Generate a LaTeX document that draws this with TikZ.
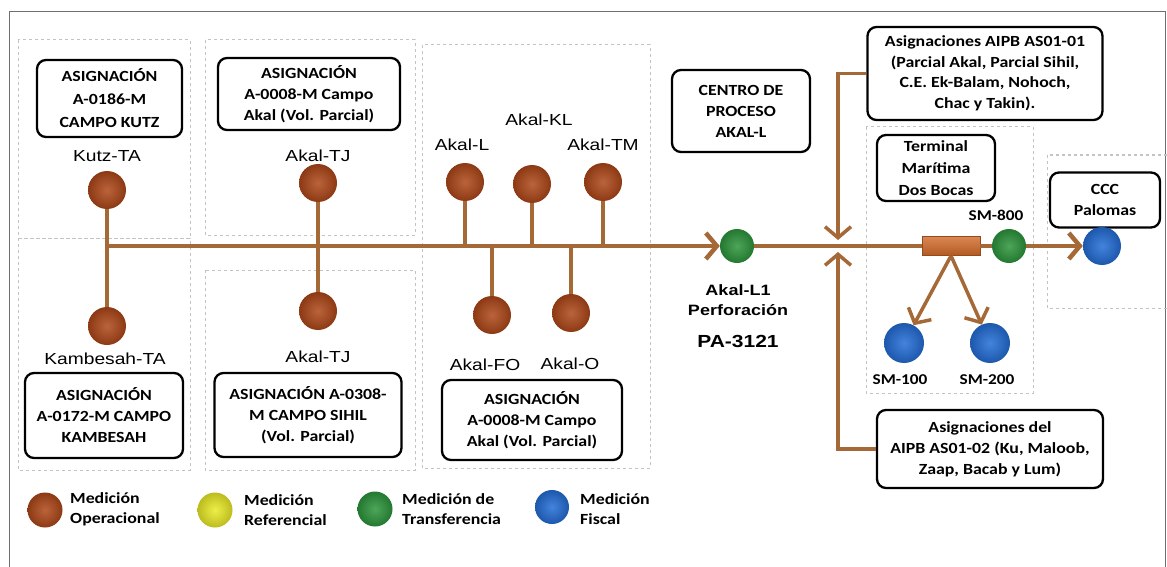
\documentclass[tikz,border=0pt]{standalone}
\usepackage{fontspec}
\setmainfont{Carlito}[FakeStretch=1.15]
\newfontfamily\arialf{Liberation Sans}[FakeStretch=1.2]
\usetikzlibrary{arrows.meta}
\definecolor{pipe}{RGB}{165,105,55}
\definecolor{opc}{RGB}{175,72,25}
\definecolor{trc}{RGB}{45,150,60}
\definecolor{fisc}{RGB}{35,110,215}
\definecolor{refc}{RGB}{235,235,40}
\definecolor{meterc}{RGB}{210,105,40}
\definecolor{zone}{RGB}{195,195,195}
\definecolor{framec}{RGB}{110,110,110}
\tikzset{
  asig/.style={draw=black, line width=2.3pt, rounded corners=9pt, align=center, inner sep=2pt, fill=white,
    font=\bfseries\fontsize{15.5}{21}\selectfont},
  sphere/.style={circle, minimum size=#1, inner sep=0pt},
  tint/.style={shading=radial, inner color=#1!85!white, outer color=#1!80!black},
  op/.style={sphere=38pt, tint=opc},
  tr/.style={sphere=34pt, tint=trc},
  fi/.style={sphere=38pt, tint=fisc},
  rf/.style={sphere=36pt, tint=refc},
  lbl/.style={font=\arialf\fontsize{16}{18}\selectfont, inner sep=0pt},
  boldlbl/.style={font=\arialf\bfseries\fontsize{15}{20}\selectfont, inner sep=0pt, align=center},
  smlbl/.style={font=\bfseries\fontsize{15}{18}\selectfont, inner sep=0pt},
  leg/.style={font=\bfseries\fontsize{15.5}{20}\selectfont, inner sep=0pt, align=left, anchor=west},
  pipeline/.style={draw=pipe, line width=4.5pt},
  stem/.style={draw=pipe, line width=3.5pt},
  barb/.style={-{Straight Barb[length=11pt,width=26pt]}},
  zonebox/.style={draw=zone, line width=1pt, dash pattern=on 3pt off 3pt},
}
\begin{document}
\begin{tikzpicture}[x=1pt,y=-1pt]
\useasboundingbox (0,0) rectangle (1167,567);
\fill[white] (0,0) rectangle (1167,567);
% frame
\draw[framec, line width=1pt] (9,575) -- (9,12) -- (1165,12) -- (1165,575);
% zones
\draw[zonebox] (18,40) rectangle (190,238);
\draw[zonebox] (205,40) rectangle (415,235);
\draw[zonebox] (18,238) rectangle (190,470);
\draw[zonebox] (205,270) rectangle (415,470);
\draw[zonebox] (422,45) rectangle (650,468);
\draw[zonebox] (866,127) rectangle (1033,393);
\draw[zonebox] (1047,155) rectangle (1167,308);

% assignment boxes
\node[asig, minimum width=145pt, minimum height=77pt, font=\bfseries\fontsize{15.5}{23}\selectfont] (bkutz) at (109.5,98.5) {ASIGNACIÓN\\A-0186-M\\CAMPO KUTZ};
\node[asig, minimum width=182pt, minimum height=72pt] (btj) at (309,94) {ASIGNACIÓN\\A-0008-M Campo\\Akal (Vol. Parcial)};
\node[asig, minimum width=158pt, minimum height=85pt] (bkamb) at (104,415.5) {ASIGNACIÓN\\A-0172-M CAMPO\\KAMBESAH};
\node[asig, minimum width=187pt, minimum height=84pt] (bsihil) at (308,415) {ASIGNACIÓN A-0308-\\M CAMPO SIHIL\\(Vol. Parcial)};
\node[asig, minimum width=180pt, minimum height=80pt] (bakal) at (532,420) {ASIGNACIÓN\\A-0008-M Campo\\Akal (Vol. Parcial)};
\node[asig, minimum width=138pt, minimum height=82pt] (bcentro) at (741,111) {CENTRO DE\\PROCESO\\AKAL-L};
\node[asig, minimum width=235pt, minimum height=93pt, font=\bfseries\fontsize{15.5}{20.5}\selectfont] (aipb1) at (985,73.5) {Asignaciones AIPB AS01-01\\(Parcial Akal, Parcial Sihil,\\C.E. Ek-Balam, Nohoch,\\Chac y Takin).};
\node[asig, minimum width=118pt, minimum height=66pt, font=\bfseries\fontsize{15.5}{22}\selectfont] (bterm) at (936,168) {Terminal\\Marítima\\Dos Bocas};
\node[asig, minimum width=110pt, minimum height=55pt] (bccc) at (1105,200) {CCC\\Palomas};
\node[asig, minimum width=226pt, minimum height=78pt] (aipb2) at (990,449) {Asignaciones del\\AIPB AS01-02 (Ku, Maloob,\\Zaap, Bacab y Lum)};

% measurement nodes
\node[op] (kutz) at (107,190) {};
\node[op] (tj1) at (318,183) {};
\node[op] (kamb) at (107,326) {};
\node[op] (tj2) at (318,311) {};
\node[op] (akl) at (465,182) {};
\node[op] (akkl) at (532,184) {};
\node[op] (aktm) at (603,182) {};
\node[op] (akfo) at (492,315) {};
\node[op] (ako) at (571,313) {};
\node[tr] (akl1) at (737,246) {};
\node[rectangle, draw=meterc!70!black, line width=0.6pt, top color=meterc!80!white, bottom color=meterc!85!black, minimum width=58pt, minimum height=19pt, inner sep=0pt] (meter) at (951,246) {};
\node[tr] (sm800) at (1009,246) {};
\node[fi] (ccc) at (1102,246) {};
\node[fi, sphere=40pt] (sm100) at (904,343) {};
\node[fi, sphere=40pt] (sm200) at (990,343) {};

% labels
\node[lbl] (lkutz) at (107,156) {Kutz-TA};
\node[lbl] (ltj1) at (318,156) {Akal-TJ};
\node[lbl] (lkamb) at (105,359) {Kambesah-TA};
\node[lbl] (ltj2) at (318,357) {Akal-TJ};
\node[lbl] (lakl) at (462,145) {Akal-L};
\node[lbl] (lakkl) at (539,120) {Akal-KL};
\node[lbl] (laktm) at (603,145) {Akal-TM};
\node[lbl] (lakfo) at (485,365) {Akal-FO};
\node[lbl] (lako) at (570,364) {Akal-O};
\node[boldlbl] (lakl1) at (738,300) {Akal-L1\\Perforación};
\node[font=\arialf\bfseries\fontsize{17.5}{20}\selectfont, inner sep=0pt] (lpa) at (738,341) {PA-3121};
\node[smlbl] (lsm800) at (996,215) {SM-800};
\node[smlbl] (lsm100) at (900,380) {SM-100};
\node[smlbl] (lsm200) at (987,380) {SM-200};

% pipeline
\coordinate (start) at (107,246);
\coordinate (jn) at (838,240);
\coordinate (js) at (838,252);
\draw[stem] (kutz) -- (kamb);
\foreach \n in {tj1,tj2,akl,akkl,aktm,akfo,ako}{\draw[stem] (\n) -- (\n |- start);}
\draw[pipeline, barb] (start) -- (akl1);
\draw[pipeline] (akl1) -- (meter);
\draw[pipeline] (meter) -- (sm800);
\draw[pipeline, barb] (sm800) -- (ccc);
\draw[stem, barb] (aipb1.west) -| (jn);
\draw[stem, barb] (aipb2.west) -| (js);
\draw[stem, barb] (meter.south) -- (sm100);
\draw[stem, barb] (meter.south) -- (sm200);

% legend
\node[op, sphere=35pt] (lgop) at (45,510) {};
\node[leg] (tgop) at (70,509) {Medición\\Operacional};
\node[rf, sphere=35pt] (lgrf) at (215,510) {};
\node[leg] (tgrf) at (244,510) {Medición\\Referencial};
\node[tr, sphere=35pt] (lgtr) at (375,509) {};
\node[leg] (tgtr) at (402,509) {Medición de\\Transferencia};
\node[fi, sphere=34pt] (lgfi) at (552,507) {};
\node[leg] (tgfi) at (580,509) {Medición\\Fiscal};
\end{tikzpicture}
\end{document}
